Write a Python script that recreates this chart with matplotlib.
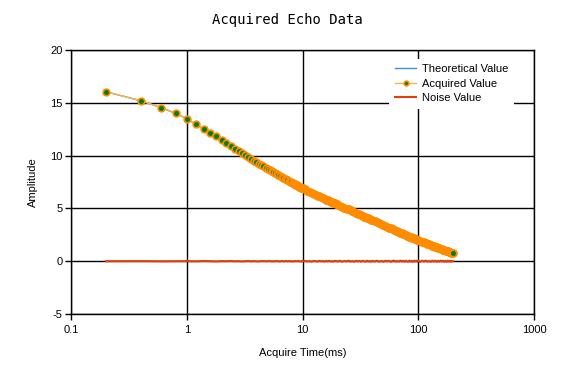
import numpy as np
import matplotlib
matplotlib.use('Agg')
import matplotlib.pyplot as plt
from matplotlib.ticker import FixedLocator, FixedFormatter, NullLocator

# Acquire times (ms): echo grid
time_ms = np.concatenate([
    np.round(np.arange(0.2, 10.01, 0.2), 1),
    np.arange(10.5, 20.01, 0.5),
    np.arange(21, 41, 1),
    np.arange(42, 101, 2),
    np.arange(104, 201, 4),
])

# Acquired amplitude
acquired = np.array([
    16.05, 15.2, 14.55, 14.0, 13.5, 12.95, 12.5, 12.15, 11.85, 11.5,
    11.2, 10.95, 10.67, 10.42, 10.21, 10.02, 9.84, 9.68, 9.52, 9.37,
    9.23, 9.10, 8.97, 8.85, 8.73, 8.62, 8.52, 8.42, 8.32, 8.23,
    8.14, 8.05, 7.97, 7.89, 7.81, 7.74, 7.67, 7.60, 7.53, 7.47,
    7.40, 7.34, 7.28, 7.22, 7.17, 7.11, 7.06, 7.00, 6.95, 6.90,
    6.79, 6.68, 6.58, 6.48, 6.39, 6.30, 6.22, 6.14, 6.06, 5.98,
    5.92, 5.84, 5.78, 5.71, 5.65, 5.59, 5.53, 5.47, 5.42, 5.37,
    5.27, 5.17, 5.07, 4.98, 4.90, 4.81, 4.73, 4.65, 4.57, 4.50,
    4.43, 4.36, 4.30, 4.23, 4.17, 4.11, 4.06, 4.00, 3.94, 3.89,
    3.79, 3.69, 3.60, 3.51, 3.42, 3.34, 3.26, 3.18, 3.11, 3.04,
    2.97, 2.90, 2.84, 2.77, 2.71, 2.66, 2.59, 2.54, 2.49, 2.43,
    2.39, 2.33, 2.29, 2.24, 2.20, 2.15, 2.11, 2.07, 2.04, 2.00,
    1.92, 1.85, 1.78, 1.72, 1.65, 1.60, 1.54, 1.48, 1.42, 1.38,
    1.32, 1.27, 1.22, 1.18, 1.13, 1.09, 1.04, 1.00, 0.96, 0.92,
    0.89, 0.84, 0.81, 0.78, 0.75,
])

# theoretical curve sits under the acquired one
theoretical = acquired.copy()

# noise trace around zero
noise = np.array([
    0.00, 0.01, -0.01, 0.00, 0.01, -0.01, 0.02, 0.00, -0.02, 0.01,
    0.00, 0.02, -0.01, 0.01, -0.02, 0.00, 0.02, -0.01, 0.01, 0.00,
    -0.02, 0.02, 0.01, -0.01, 0.00, 0.03, -0.02, 0.01, -0.01, 0.02,
    0.00, -0.03, 0.02, 0.01, -0.02, 0.03, -0.01, 0.00, 0.02, -0.02,
    0.01, -0.03, 0.02, 0.00, -0.01, 0.03, -0.02, 0.01, -0.03, 0.02,
    0.03, -0.02, 0.01, -0.04, 0.03, 0.00, -0.03, 0.04, -0.01, 0.02,
    -0.04, 0.03, -0.02, 0.04, -0.03, 0.01, -0.04, 0.03, 0.02, -0.03,
    0.04, -0.04, 0.02, -0.02, 0.05, -0.03, 0.01, -0.05, 0.04, -0.02,
    0.03, -0.05, 0.04, -0.01, -0.04, 0.05, -0.03, 0.02, -0.05, 0.04,
    -0.03, 0.05, -0.04, 0.02, -0.05, 0.05, -0.02, 0.04, -0.06, 0.03,
    0.05, -0.05, 0.03, -0.04, 0.06, -0.03, 0.04, -0.06, 0.05, -0.02,
    -0.05, 0.06, -0.04, 0.03, -0.06, 0.05, -0.03, 0.06, -0.05, 0.04,
    -0.06, 0.05, -0.04, 0.06, -0.05, 0.03, -0.06, 0.06, -0.04, 0.05,
    -0.06, 0.04, -0.05, 0.06, -0.03, 0.05, -0.06, 0.04, -0.05, 0.06,
    -0.04, 0.05, -0.06, 0.03, 0.00,
])

x_ticks = [0.1, 1, 10, 100, 1000]
x_tick_labels = ['0.1', '1', '10', '100', '1000']
y_ticks = [-5, 0, 5, 10, 15, 20]

plt.rcParams['font.family'] = ['Liberation Sans', 'DejaVu Sans']
plt.rcParams['axes.unicode_minus'] = False

fig = plt.figure(figsize=(5.73, 3.72), dpi=100)
ax = fig.add_axes([71 / 573, 1 - 314 / 372, 463 / 573, 264 / 372])

ms, mew = 4.8, 1.2
ax.plot(time_ms, theoretical, color='#418CF0', lw=1, label='Theoretical Value', zorder=3)
ax.plot(time_ms, acquired, color='#FCB441', lw=1, marker='o', ms=ms,
        mfc='#008000', mec='#FF8C00', mew=mew, label='Acquired Value', zorder=4)
# dense tail: markers pile up into a solid orange band
dense = (time_ms > 8) & (time_ms < time_ms[-1])
ax.plot(time_ms[dense], acquired[dense], ls='none', marker='o', ms=ms,
        mfc='#FF8C00', mec='#FF8C00', mew=mew, zorder=4)
ax.plot(time_ms[-1:], acquired[-1:], ls='none', marker='o', ms=ms,
        mfc='#008000', mec='#FF8C00', mew=mew, zorder=4)
ax.plot(time_ms, noise, color='#E0400A', lw=1.5, label='Noise Value', zorder=5)

ax.set_xscale('log')
ax.set_xlim(0.1, 1000)
ax.set_ylim(-5, 20)
ax.xaxis.set_major_locator(FixedLocator(x_ticks))
ax.xaxis.set_major_formatter(FixedFormatter(x_tick_labels))
ax.xaxis.set_minor_locator(NullLocator())
ax.set_yticks(y_ticks)

ax.grid(True, color='black', lw=1)
ax.set_axisbelow(True)
for s in ax.spines.values():
    s.set_color('black')
    s.set_linewidth(1)
ax.tick_params(direction='out', length=4, width=1, labelsize=8)
ax.tick_params(axis='x', pad=4)
ax.tick_params(axis='y', pad=2)

ax.set_xlabel('Acquire Time(ms)', fontsize=8, labelpad=9)
ax.set_ylabel('Amplitude', fontsize=8, labelpad=9)
fig.text(287 / 573, 1 - 20 / 372, 'Acquired Echo Data', ha='center', va='center',
         fontsize=10, family='DejaVu Sans Mono')

leg = ax.legend(loc='upper right', bbox_to_anchor=(0.968, 0.988), fontsize=8,
                frameon=True, fancybox=False, edgecolor='none', facecolor='white',
                framealpha=1, handlelength=1.9, handletextpad=0.5,
                labelspacing=0.4, borderpad=0.5, markerscale=0.7)

fig.savefig('out.png', dpi=100)
